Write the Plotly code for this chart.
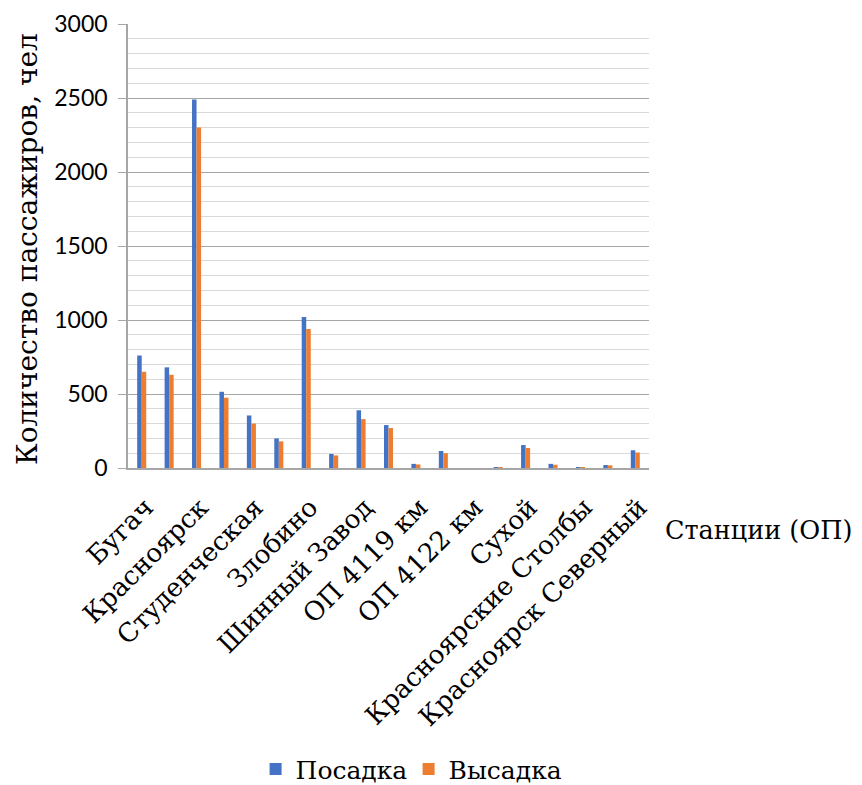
import plotly.graph_objects as go

# Stations along the line (every station has a bar; every second one is labelled)
station_idx = list(range(19))
labelled_idx = [0, 2, 4, 6, 8, 10, 12, 14, 16, 18]
labels = ["Бугач", "Красноярск", "Студенческая", "Злобино", "Шинный Завод",
          "ОП 4119 км", "ОП 4122 км", "Сухой", "Красноярские Столбы",
          "Красноярск Северный"]

boarding = [760, 680, 2490, 515, 355, 200, 1020, 95, 390, 290,
            28, 115, 0, 3, 155, 28, 3, 20, 120]
alighting = [650, 630, 2300, 475, 300, 180, 940, 85, 330, 270,
             24, 100, 0, 2, 135, 22, 2, 18, 105]

serif = "DejaVu Serif"
sans = "Lato"

fig = go.Figure()
fig.add_trace(go.Bar(x=station_idx, y=boarding, name="Посадка",
                     marker=dict(color="#4472C4", line=dict(width=0))))
fig.add_trace(go.Bar(x=station_idx, y=alighting, name="Высадка",
                     marker=dict(color="#ED7D31", line=dict(width=0))))

fig.update_layout(
    width=862, height=785,
    margin=dict(l=128, r=213, t=24, b=317, autoexpand=False),
    paper_bgcolor="white", plot_bgcolor="white",
    barmode="group", bargap=0.67, bargroupgap=0,
    showlegend=True,
    legend=dict(orientation="h", x=0.474, xanchor="center",
                xref="container", yref="container", y=0.02, yanchor="middle",
                font=dict(family=serif, size=25, color="black"),
                itemwidth=30, entrywidth=108, entrywidthmode="pixels",
                traceorder="normal"),
    xaxis=dict(range=[-0.5, 18.5], tickmode="array",
               tickvals=labelled_idx, ticktext=labels, tickangle=-45,
               tickfont=dict(family=serif, size=26, color="black"),
               ticklabelstandoff=12, ticklabelshift=4,
               showgrid=False, zeroline=False, showline=True, automargin=False,
               linecolor="#a6a6a6", linewidth=1.5, ticks=""),
    yaxis=dict(range=[0, 3000], dtick=500, tickmode="linear", automargin=False,
               tickfont=dict(family=sans, size=23, color="black"),
               showgrid=True, gridcolor="#a6a6a6", gridwidth=1.3,
               minor=dict(dtick=100, showgrid=True, gridcolor="#d9d9d9", gridwidth=1.3),
               zeroline=False, showline=True, linecolor="#a6a6a6", linewidth=1.5,
               ticks="outside", ticklen=8, tickcolor="#a6a6a6",
               ticklabelstandoff=6),
    annotations=[
        dict(text="Количество пассажиров, чел", x=-101 / 521, xref="paper",
             y=(468 - 249) / 444, yref="paper", textangle=-90, showarrow=False,
             font=dict(family=serif, size=28, color="black"),
             xanchor="center", yanchor="middle"),
        dict(text="Станции (ОП)", x=1.027, xref="paper", y=-0.14, yref="paper",
             showarrow=False, xanchor="left", yanchor="middle",
             font=dict(family=serif, size=25.5, color="black")),
    ],
)

fig.write_html("out.html")
